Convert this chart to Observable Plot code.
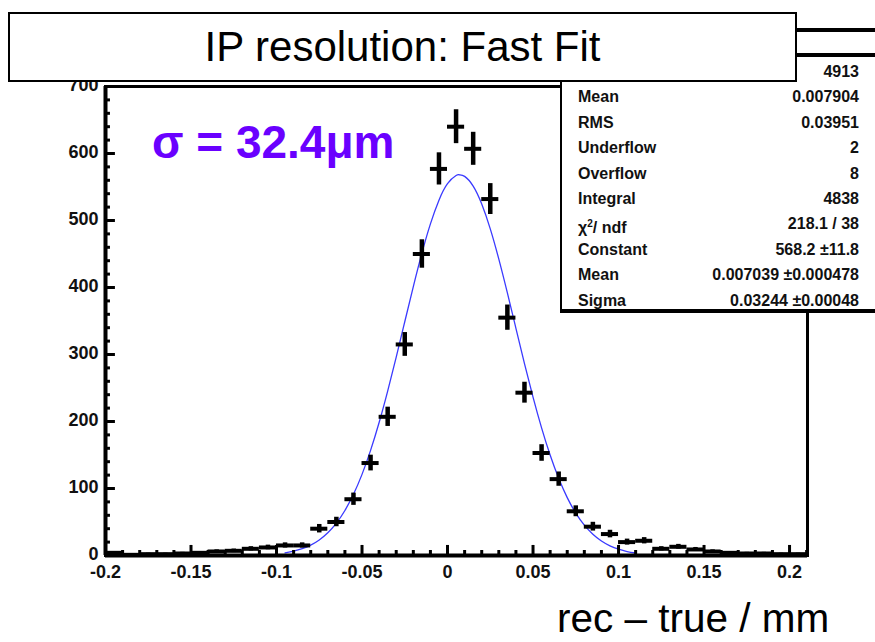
<!DOCTYPE html>
<html>
<head>
<meta charset="utf-8">
<script src="https://cdn.jsdelivr.net/npm/d3@7"></script>
<script src="https://cdn.jsdelivr.net/npm/@observablehq/plot@0.6"></script>
<style>
  html, body { margin: 0; padding: 0; background: #fff; }
  #wrap { position: relative; width: 875px; height: 642px; overflow: hidden; font-family: "Liberation Sans", Arial, sans-serif; }
  #chart { position: absolute; left: 0; top: 0; }
  .abs { position: absolute; }
  #titlebox { left: 8px; top: 12px; width: 785px; height: 66px; border: 2px solid #000; background: #fff;
    font-size: 42px; line-height: 66px; text-align: center; color: #000; }
  #toprule { left: 797px; top: 28px; width: 80px; height: 4px; background: #000; }
  #statsbox { left: 560px; top: 53px; width: 330px; height: 252px; border-left: 2px solid #000; border-top: 4px solid #000; border-bottom: 4px solid #000; background: #fff; }
  #statsrows { left: 578px; top: 59px; width: 281px; font-size: 16px; font-weight: bold; color: #111; }
  .row { display: flex; justify-content: space-between; height: 25.4px; line-height: 25.4px; white-space: nowrap; }
  #sigma { left: 152px; top: 119px; font-size: 46px; font-weight: bold; color: #6a00ff; line-height: 1; white-space: nowrap; }
  #xlabel { left: 557px; top: 599px; font-size: 40.5px; line-height: 38px; height: 38px; color: #000; white-space: nowrap; }
</style>
</head>
<body>
<div id="wrap">
  <div id="chart"></div>
  <div id="statsbox" class="abs"></div>
  <div id="statsrows" class="abs"></div>
  <div id="toprule" class="abs"></div>
  <div id="titlebox" class="abs"></div>
  <div id="sigma" class="abs"></div>
  <div id="xlabel" class="abs"></div>
</div>
<script>
// ---- Data ----
const titleText = "IP resolution: Fast Fit";
const sigmaText = "σ = 32.4μm";
const xLabelText = "rec – true / mm";

const binCenters = [-0.195, -0.185, -0.175, -0.165, -0.155, -0.145, -0.135, -0.125, -0.115, -0.105,
  -0.095, -0.085, -0.075, -0.065, -0.055, -0.045, -0.035, -0.025, -0.015, -0.005,
  0.005, 0.015, 0.025, 0.035, 0.045, 0.055, 0.065, 0.075, 0.085, 0.095,
  0.105, 0.115, 0.125, 0.135, 0.145, 0.155, 0.165, 0.175, 0.185, 0.195, 0.205];
const binCounts = [4, 1, 2, 2, 3, 4, 6, 7, 10, 12,
  15, 15, 40, 50, 84, 138, 207, 315, 450, 577,
  640, 607, 532, 355, 243, 153, 114, 66, 43, 32,
  20, 22, 10, 13, 9, 6, 4, 3, 3, 2, 2];
const binHalfWidth = 0.005;

// Gaussian fit curve (Constant 568.2, Mean 0.007039, Sigma 0.03244), sampled values
const fitX = [-0.095, -0.09, -0.085, -0.08, -0.075, -0.07, -0.065, -0.06, -0.055, -0.05,
  -0.045, -0.04, -0.035, -0.03, -0.025, -0.02, -0.015, -0.01, -0.005, 0,
  0.005, 0.007, 0.01, 0.015, 0.02, 0.025, 0.03, 0.035, 0.04, 0.045, 0.05,
  0.055, 0.06, 0.065, 0.07, 0.075, 0.08, 0.085, 0.09, 0.095, 0.1, 0.105, 0.11];
const fitY = [4.0, 6.5, 10.1, 15.5, 23.2, 33.9, 48.3, 67.2, 91.3, 121.1,
  156.9, 198.5, 245.4, 296.1, 348.9, 401.4, 451.1, 495.0, 530.4, 555.0,
  567.1, 568.2, 565.8, 551.3, 524.6, 487.5, 442.3, 391.9, 339.1, 286.5, 236.4,
  190.5, 149.9, 115.2, 86.4, 63.3, 45.3, 31.7, 21.6, 14.4, 9.4, 5.9, 3.7];

const xMajorTicks = [-0.2, -0.15, -0.1, -0.05, 0, 0.05, 0.1, 0.15, 0.2];
const xTickLabels = ["-0.2", "-0.15", "-0.1", "-0.05", "0", "0.05", "0.1", "0.15", "0.2"];
const xMinorTicks = [-0.19, -0.18, -0.17, -0.16, -0.14, -0.13, -0.12, -0.11, -0.09, -0.08, -0.07, -0.06,
  -0.04, -0.03, -0.02, -0.01, 0.01, 0.02, 0.03, 0.04, 0.06, 0.07, 0.08, 0.09, 0.11, 0.12, 0.13, 0.14,
  0.16, 0.17, 0.18, 0.19, 0.21];
const yMajorTicks = [0, 100, 200, 300, 400, 500, 600, 700];
const yTickLabels = ["0", "100", "200", "300", "400", "500", "600", "700"];
const yMinorTicks = [20, 40, 60, 80, 120, 140, 160, 180, 220, 240, 260, 280, 320, 340, 360, 380,
  420, 440, 460, 480, 520, 540, 560, 580, 620, 640, 660, 680];

const statLabels = ["", "Mean", "RMS", "Underflow", "Overflow", "Integral", "χ<sup style='font-size:10px;vertical-align:6px'>2</sup>/ ndf", "Constant", "Mean", "Sigma"];
const statValues = ["4913", "0.007904", "0.03951", "2", "8", "4838", "218.1 / 38", "568.2 ±11.8", "0.007039 ±0.000478", "0.03244 ±0.00048"];

// ---- Build ----
const bins = binCenters.map((x, i) => ({x, n: binCounts[i]}));
const fit = fitX.map((x, i) => ({x, y: fitY[i]}));

const xDomain = [-0.2, 0.2105];
const yDomain = [0, 700];
const x0 = xDomain[0];
const xMajLen = 15, xMinLen = 7.5;
const yMajLen = 0.0058, yMinLen = 0.0029;

const plot = Plot.plot({
  width: 875,
  height: 642,
  marginLeft: 105,
  marginRight: 68,
  marginTop: 86,
  marginBottom: 87,
  x: {domain: xDomain, axis: null, label: null},
  y: {domain: yDomain, axis: null, label: null},
  style: {fontFamily: "'Liberation Sans', Arial, sans-serif", fontSize: "18px", fontWeight: "bold", background: "#fff", color: "#000"},
  marks: [
    Plot.frame({stroke: "#000", strokeWidth: 3}),
    Plot.line(fit, {x: "x", y: "y", stroke: "#3a3aff", strokeWidth: 1.3, curve: "natural"}),
    Plot.ruleX(bins, {x: "x", y1: d => d.n - Math.sqrt(d.n), y2: d => d.n + Math.sqrt(d.n), stroke: "#000", strokeWidth: 4.5}),
    Plot.ruleY(bins, {y: "n", x1: d => d.x - binHalfWidth, x2: d => d.x + binHalfWidth, stroke: "#000", strokeWidth: 4}),
    Plot.ruleX(xMajorTicks, {x: d => d, y1: 0, y2: xMajLen, stroke: "#000", strokeWidth: 3}),
    Plot.ruleX(xMinorTicks, {x: d => d, y1: 0, y2: xMinLen, stroke: "#000", strokeWidth: 3}),
    Plot.ruleY(yMajorTicks, {y: d => d, x1: x0, x2: x0 + yMajLen, stroke: "#000", strokeWidth: 3}),
    Plot.ruleY(yMinorTicks, {y: d => d, x1: x0, x2: x0 + yMinLen, stroke: "#000", strokeWidth: 3}),
    Plot.ruleX([x0], {stroke: "#000", strokeWidth: 4}),
    Plot.ruleY([0], {stroke: "#000", strokeWidth: 4}),
    Plot.axisX(xMajorTicks, {tickSize: 0, tickPadding: 10, label: null, tickFormat: (d) => xTickLabels[xMajorTicks.indexOf(d)], fill: "#111"}),
    Plot.axisY(yMajorTicks, {tickSize: 0, tickPadding: 7, label: null, tickFormat: (d) => yTickLabels[yMajorTicks.indexOf(d)], fill: "#111", dy: -1})
  ]
});
document.getElementById("chart").appendChild(plot);

document.getElementById("titlebox").textContent = titleText;
document.getElementById("sigma").textContent = sigmaText;
document.getElementById("xlabel").textContent = xLabelText;
const rows = document.getElementById("statsrows");
statLabels.forEach((lab, i) => {
  const r = document.createElement("div");
  r.className = "row";
  r.innerHTML = `<span>${lab}</span><span>${statValues[i]}</span>`;
  rows.appendChild(r);
});
</script>
</body>
</html>
